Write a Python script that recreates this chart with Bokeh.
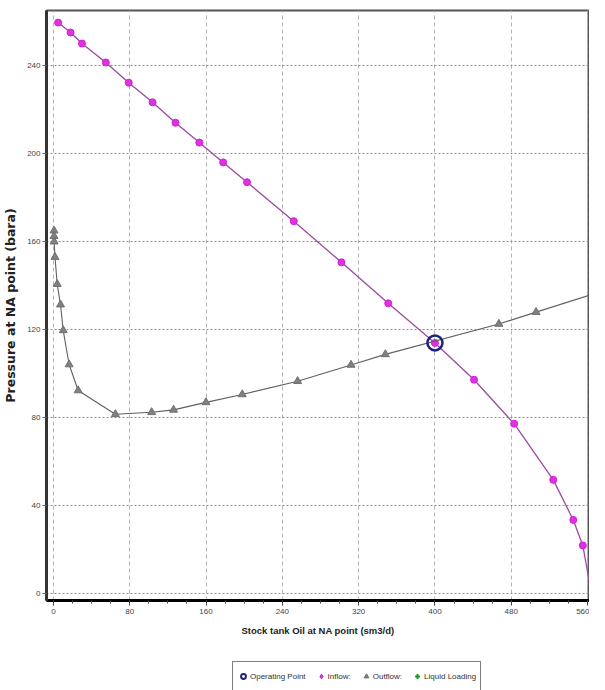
from bokeh.plotting import figure
from bokeh.layouts import column
from bokeh.models import Range1d, FixedTicker, Legend, LegendItem
from bokeh.embed import file_html
from bokeh.resources import INLINE

# ---- data ----
inflow_x = [5, 18, 30, 55, 79, 104, 128, 153, 178, 203, 252, 302, 351, 400, 441, 483, 524, 545, 555]
inflow_y = [259.5, 255, 250, 241.4, 232.2, 223.3, 214, 205, 196, 187, 169.3, 150.6, 132, 114, 97.3, 77.3, 51.8, 33.6, 22]
inflow_curve_x = inflow_x + [562]
inflow_curve_y = inflow_y + [5]

outflow_x = [0.7, 0.7, 0.8, 1.7, 4, 7.5, 10.3, 16.5, 26, 65, 103, 126, 160, 198, 256, 312, 348, 467, 506]
outflow_y = [165, 162.5, 160, 153, 140.7, 131.4, 119.7, 104.2, 92.4, 81.6, 82.5, 83.6, 87, 90.6, 96.6, 104, 108.8, 122.6, 128]
outflow_curve_x = outflow_x + [562]
outflow_curve_y = outflow_y + [135.7]

operating_x = [400]
operating_y = [114]

liquid_loading_x = []
liquid_loading_y = []

x_ticks = [0, 80, 160, 240, 320, 400, 480, 560]
y_ticks = [0, 40, 80, 120, 160, 200, 240]
legend_labels = ["Operating Point", "Inflow:", "Outflow:", "Liquid Loading"]

FONT = "Liberation Sans"

p = figure(width=589, height=656, output_backend="svg", toolbar_location=None,
           x_range=Range1d(-7.2, 562), y_range=Range1d(-3, 265),
           min_border_left=45, min_border_right=0, min_border_top=10, min_border_bottom=56)
p.background_fill_color = "white"
p.border_fill_color = "white"
p.outline_line_color = "#555555"
p.outline_line_width = 2

# grids
p.xgrid.ticker = FixedTicker(ticks=x_ticks)
p.ygrid.ticker = FixedTicker(ticks=y_ticks)
p.xgrid.grid_line_color = "#b5b5b5"
p.xgrid.grid_line_dash = "4 3"
p.xgrid.grid_line_width = 1
p.ygrid.grid_line_color = "#8a8a8a"
p.ygrid.grid_line_dash = "2 2"
p.ygrid.grid_line_width = 1

# axes
xa = p.xaxis[0]
xa.ticker = FixedTicker(ticks=x_ticks, minor_ticks=list(range(0, 561, 20)))
xa.axis_line_width = 3
xa.axis_line_color = "black"
xa.major_tick_out = 5
xa.major_tick_in = 0
xa.minor_tick_out = 3
xa.minor_tick_in = 0
xa.major_tick_line_color = "#444444"
xa.minor_tick_line_color = "#444444"
xa.major_label_text_font = FONT
xa.major_label_text_font_size = "8px"
xa.major_label_text_color = "#444444"
xa.major_label_standoff = 3
xa.axis_label = "Stock tank Oil at NA point (sm3/d)"
xa.axis_label_text_font = FONT
xa.axis_label_text_font_style = "bold"
xa.axis_label_text_font_size = "9.5px"
xa.axis_label_text_color = "#222222"
xa.axis_label_standoff = 8

ya = p.yaxis[0]
ya.ticker = FixedTicker(ticks=y_ticks)
ya.axis_line_width = 3
ya.axis_line_color = "#333333"
ya.major_tick_out = 4
ya.major_tick_in = 0
ya.minor_tick_out = 0
ya.minor_tick_in = 0
ya.major_tick_line_color = "#666666"
ya.major_label_text_font = FONT
ya.major_label_text_font_size = "8px"
ya.major_label_text_color = "#444444"
ya.major_label_standoff = 2
ya.axis_label = "Pressure at NA point (bara)"
ya.axis_label_text_font = "DejaVu Sans"
ya.axis_label_text_font_style = "bold"
ya.axis_label_text_font_size = "12.5px"
ya.axis_label_text_color = "#222222"
ya.axis_label_standoff = 6

# series
p.line(inflow_curve_x, inflow_curve_y, line_color="#9a4aa0", line_width=1.3)
p.scatter(inflow_x, inflow_y, marker="circle", size=7, fill_color="#e030e0", line_color="#d020d8")

p.line(outflow_curve_x, outflow_curve_y, line_color="#606060", line_width=1.1)
p.scatter(outflow_x, outflow_y, marker="triangle", size=8, fill_color="#808080", line_color="#707070")

p.scatter(operating_x, operating_y, marker="circle", size=15, fill_color=None,
          line_color="#1a237e", line_width=2.5)

p.scatter(liquid_loading_x, liquid_loading_y, marker="cross", size=8,
          line_color="#1a9a1a", line_width=2)

# ---- legend strip below the chart (its glyph renderers lie outside its own view) ----
lg = figure(width=589, height=34, output_backend="svg", toolbar_location=None,
            x_range=Range1d(-1000, -999), y_range=Range1d(-1000, -999),
            min_border_left=0, min_border_right=0, min_border_top=0, min_border_bottom=0)
lg.axis.visible = False
lg.grid.visible = False
lg.outline_line_color = None
lg.background_fill_color = "white"
lg.border_fill_color = "white"

g_op = lg.scatter(operating_x, operating_y, marker="circle", size=9, fill_color=None,
                  line_color="#1a237e", line_width=2)
g_in = lg.scatter(inflow_x, inflow_y, marker="diamond", size=9, fill_color="#e030e0",
                  line_color="#d020d8")
g_out = lg.scatter(outflow_x, outflow_y, marker="triangle", size=6, fill_color="#808080",
                   line_color="#707070")
g_ll = lg.scatter(operating_x, operating_y, marker="cross", size=8,
                  line_color="#1a9a1a", line_width=2)

legend = Legend(items=[
    LegendItem(label=legend_labels[0], renderers=[g_op]),
    LegendItem(label=legend_labels[1], renderers=[g_in]),
    LegendItem(label=legend_labels[2], renderers=[g_out]),
    LegendItem(label=legend_labels[3], renderers=[g_ll]),
], orientation="horizontal", location=(186, -1))
legend.label_text_font = FONT
legend.label_text_font_size = "8px"
legend.label_text_color = "#333333"
legend.glyph_width = 12
legend.glyph_height = 20
legend.label_height = 20
legend.spacing = 9
legend.padding = 4
legend.margin = 0
legend.label_standoff = 1
legend.border_line_color = "black"
legend.border_line_width = 1
legend.background_fill_color = "white"
lg.add_layout(legend, "center")

layout = column(p, lg, spacing=0)
open("out.html", "w").write(file_html(layout, INLINE))
